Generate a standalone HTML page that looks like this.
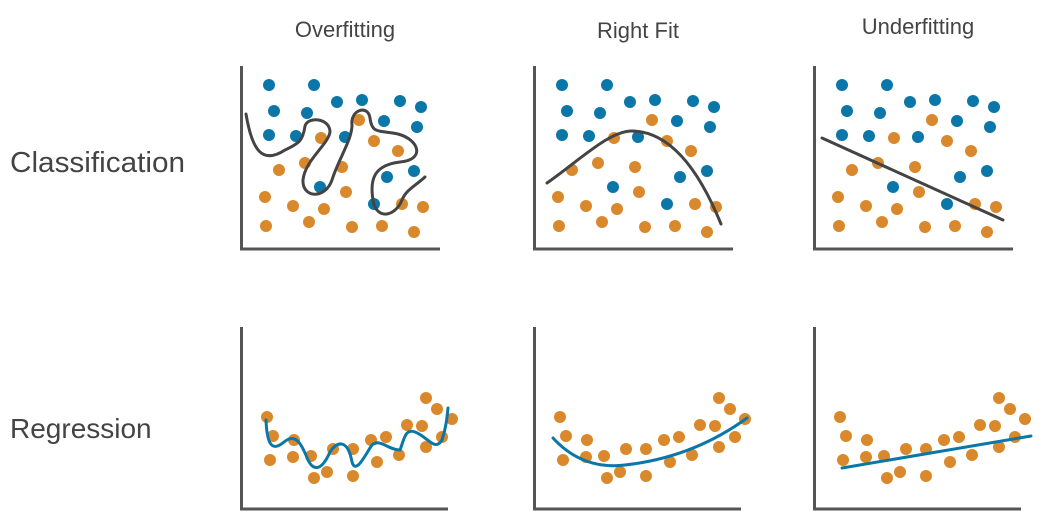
<!DOCTYPE html>
<html><head><style>
html,body{margin:0;padding:0;background:#fff;}
svg{display:block;}
text{font-family:"Liberation Sans",sans-serif;fill:#444;}
</style></head><body>
<svg width="1045" height="526" viewBox="0 0 1045 526">
<defs>
<g id="cls">
<path d="M241.5,66 V249 H440" fill="none" stroke="#555" stroke-width="3"/>
<g fill="#0a77a8">
<circle cx="269" cy="85" r="6"/><circle cx="314" cy="85" r="6"/><circle cx="274" cy="111" r="6"/><circle cx="307" cy="113" r="6"/><circle cx="337" cy="102" r="6"/><circle cx="362" cy="100" r="6"/><circle cx="400" cy="101" r="6"/><circle cx="421" cy="107" r="6"/><circle cx="269" cy="135" r="6"/><circle cx="296" cy="136" r="6"/><circle cx="345" cy="137" r="6"/><circle cx="384" cy="121" r="6"/><circle cx="417" cy="127" r="6"/><circle cx="387" cy="177" r="6"/><circle cx="414" cy="171" r="6"/><circle cx="320" cy="187" r="6"/><circle cx="374" cy="204" r="6"/>
</g>
<g fill="#d9892b">
<circle cx="359" cy="120" r="6"/><circle cx="321" cy="138" r="6"/><circle cx="374" cy="141" r="6"/><circle cx="398" cy="151" r="6"/><circle cx="279" cy="170" r="6"/><circle cx="305" cy="163" r="6"/><circle cx="342" cy="167" r="6"/><circle cx="265" cy="197" r="6"/><circle cx="293" cy="206" r="6"/><circle cx="324" cy="209" r="6"/><circle cx="346" cy="192" r="6"/><circle cx="402" cy="204" r="6"/><circle cx="423" cy="207" r="6"/><circle cx="266" cy="226" r="6"/><circle cx="309" cy="222" r="6"/><circle cx="352" cy="227" r="6"/><circle cx="382" cy="226" r="6"/><circle cx="414" cy="232" r="6"/>
</g>
</g>
<g id="reg">
<path d="M241.5,327 V509 H448" fill="none" stroke="#555" stroke-width="3"/>
<g fill="#d9892b">
<circle cx="267" cy="417" r="6"/><circle cx="273" cy="436" r="6"/><circle cx="270" cy="460" r="6"/><circle cx="294" cy="440" r="6"/><circle cx="293" cy="457" r="6"/><circle cx="311" cy="456" r="6"/><circle cx="314" cy="478" r="6"/><circle cx="327" cy="472" r="6"/><circle cx="333" cy="449" r="6"/><circle cx="353" cy="449" r="6"/><circle cx="353" cy="476" r="6"/><circle cx="371" cy="440" r="6"/><circle cx="377" cy="462" r="6"/><circle cx="386" cy="437" r="6"/><circle cx="399" cy="455" r="6"/><circle cx="407" cy="425" r="6"/><circle cx="422" cy="426" r="6"/><circle cx="426" cy="447" r="6"/><circle cx="426" cy="398" r="6"/><circle cx="437" cy="409" r="6"/><circle cx="442" cy="437" r="6"/><circle cx="452" cy="419" r="6"/>
</g>
</g>
</defs>

<text x="345" y="37" font-size="22" text-anchor="middle">Overfitting</text>
<text x="638" y="38" font-size="22" text-anchor="middle">Right Fit</text>
<text x="918" y="34" font-size="22" text-anchor="middle">Underfitting</text>
<text x="10" y="172" font-size="29" textLength="175" lengthAdjust="spacingAndGlyphs">Classification</text>
<text x="10" y="438" font-size="28">Regression</text>

<use href="#cls"/>
<use href="#cls" transform="translate(293,0)"/>
<use href="#cls" transform="translate(573,0)"/>
<use href="#reg"/>
<use href="#reg" transform="translate(293,0)"/>
<use href="#reg" transform="translate(573,0)"/>

<g fill="none" stroke="#444" stroke-width="3" stroke-linecap="round">
<path d="M246,114 C252,150 262,165 285,150 C300,143 303,140 305,126 C308,116 330,118 330,132 C328,145 305,160 303,180 C302,198 325,200 332,180 C338,160 352,140 352,125 C350,110 368,104 370,118 C372,134 378,130 398,134 C420,140 425,160 400,162 C375,165 368,178 374,205 C380,220 396,215 402,200 C406,190 415,186 425,177"/>
<path d="M547,183 C580,160 610,130 633,131 C665,132 695,160 721,224"/>
<path d="M822,138 L1003,220"/>
</g>
<g fill="none" stroke="#0a77a8" stroke-width="3" stroke-linecap="round">
<path d="M266,420 C267,445 272,452 284,442 C296,432 302,445 308,460 C314,472 322,470 330,452 C338,440 348,440 352,462 C356,475 365,455 372,445 C380,438 388,450 400,450 C404,440 405,428 415,432 C428,437 435,452 442,440 C446,428 447,418 448,408"/>
<path d="M553,438 C575,462 600,468 625,465 C670,460 710,445 747,418"/>
<path d="M842,468 L1031,436"/>
</g>
</svg>
</body></html>
